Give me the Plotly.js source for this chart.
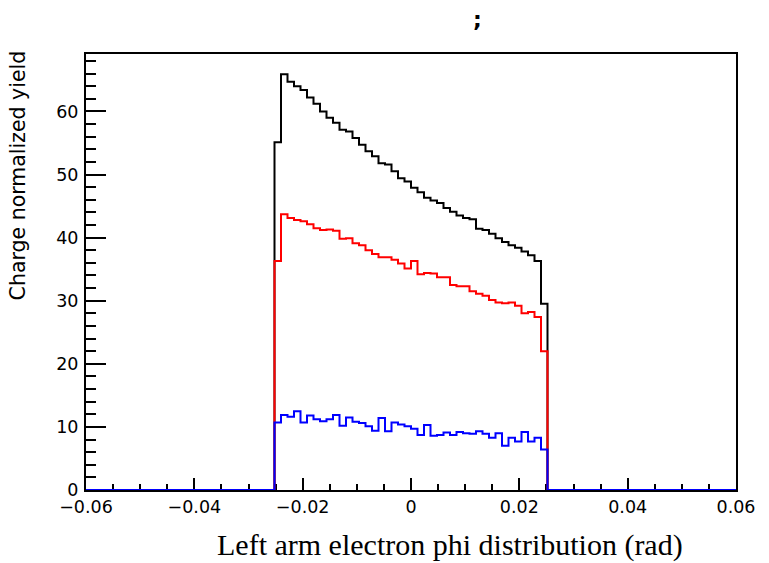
<!DOCTYPE html>
<html>
<head>
<meta charset="utf-8">
<script src="https://cdn.plot.ly/plotly-3.0.1.min.js"></script>
<style>html,body{margin:0;padding:0;background:#fff;}</style>
</head>
<body>
<div id="chart" style="width:769px;height:563px;"></div>
<script>
// Histogram binning (ROOT TH1: 100 bins from -0.06 to 0.06)
const nBins = 100;
const xMin = -0.06;
const xMax = 0.06;
const firstFilledBin = 29;

// Bin contents of the filled bins (bins 29..70)
const blackValues = [55.1, 65.9, 64.7, 64.0, 63.4, 62.2, 61.2, 60.0, 59.0, 58.2,
  57.1, 56.8, 55.8, 54.7, 53.7, 52.9, 51.8, 51.6, 50.5, 49.4,
  48.9, 47.9, 47.2, 46.3, 45.9, 45.5, 44.7, 44.1, 43.5, 43.1,
  42.9, 41.4, 41.2, 40.6, 39.9, 39.3, 38.8, 38.4, 37.8, 37.2,
  36.3, 29.5];
const redValues = [36.3, 43.7, 43.1, 42.8, 42.6, 42.1, 41.5, 41.2, 41.3, 41.1,
  39.8, 39.9, 39.1, 38.8, 38.0, 37.4, 36.9, 36.9, 36.5, 35.9,
  35.1, 36.3, 34.2, 34.4, 34.3, 33.7, 33.7, 32.5, 32.3, 32.3,
  31.5, 31.1, 30.8, 30.1, 29.7, 29.6, 29.7, 29.2, 28.0, 28.2,
  27.4, 22.0];
const blueValues = [10.7, 11.9, 11.6, 12.5, 10.7, 11.8, 11.2, 10.9, 11.2, 11.9,
  10.2, 11.5, 10.8, 10.6, 10.1, 9.4, 11.4, 9.3, 10.7, 10.4,
  10.1, 9.7, 8.7, 10.3, 8.6, 8.7, 9.1, 8.7, 9.2, 9.0,
  8.9, 9.3, 8.9, 8.3, 9.0, 7.0, 8.3, 7.7, 9.2, 7.7,
  8.3, 6.4];

const xTickVals = [-0.06, -0.04, -0.02, 0, 0.02, 0.04, 0.06];
const yTickVals = [0, 10, 20, 30, 40, 50, 60];

function histTrace(values, color) {
  const contents = [];
  for (let i = 0; i < nBins; i++) {
    const k = i - firstFilledBin;
    contents.push(k >= 0 && k < values.length ? values[k] : 0);
  }
  const w = (xMax - xMin) / nBins;
  const x = [], y = [];
  for (let i = 0; i < nBins; i++) { x.push(xMin + i * w); y.push(contents[i]); }
  x.push(xMax); y.push(contents[nBins - 1]);
  return {
    type: 'scatter', mode: 'lines', x: x, y: y,
    line: {shape: 'hv', color: color, width: 2},
    cliponaxis: false, hoverinfo: 'skip', showlegend: false
  };
}

const data = [
  histTrace(blackValues, '#000000'),
  histTrace(redValues, '#ff0000'),
  histTrace(blueValues, '#0000ff')
];

const tickFont = {family: 'DejaVu Sans', size: 17.5, color: '#000'};

const layout = {
  width: 769, height: 563,
  margin: {l: 86, r: 33, t: 54, b: 73, pad: 0},
  paper_bgcolor: '#fff', plot_bgcolor: '#fff',
  showlegend: false,
  xaxis: {
    range: [xMin, xMax], showgrid: false, zeroline: false,
    tickmode: 'array', tickvals: xTickVals,
    ticks: 'inside', ticklen: 12, tickwidth: 2, tickcolor: '#000',
    minor: {dtick: 0.005, tick0: 0, ticks: 'inside', ticklen: 6, tickwidth: 2, tickcolor: '#000', showgrid: false},
    showline: true, linewidth: 2, linecolor: '#000', mirror: true,
    tickfont: tickFont, layer: 'below traces', ticklabelstandoff: 0
  },
  yaxis: {
    range: [0, 69.1], showgrid: false, zeroline: false,
    tickmode: 'array', tickvals: yTickVals,
    ticks: 'inside', ticklen: 20, tickwidth: 2, tickcolor: '#000',
    minor: {dtick: 2, tick0: 0, ticks: 'inside', ticklen: 10, tickwidth: 2, tickcolor: '#000', showgrid: false},
    showline: true, linewidth: 2, linecolor: '#000', mirror: true,
    tickfont: tickFont, layer: 'below traces', ticklabelstandoff: 2
  },
  annotations: [
    {text: 'Left arm electron phi distribution (rad)', xref: 'paper', yref: 'paper',
     x: 0.9216, y: -0.126, xanchor: 'right', yanchor: 'middle', showarrow: false,
     font: {family: 'Liberation Serif', size: 30, color: '#000'}},
    {text: 'Charge normalized yield', xref: 'paper', yref: 'paper',
     x: -0.1048, y: 0.7213, xanchor: 'center', yanchor: 'middle', showarrow: false, textangle: -90,
     font: {family: 'DejaVu Sans', size: 20.5, color: '#000'}},
    {text: ';', xref: 'paper', yref: 'paper',
     x: 0.603, y: 1.0785, xanchor: 'center', yanchor: 'middle', showarrow: false,
     font: {family: 'DejaVu Sans', size: 22, color: '#000', weight: 'bold'}}
  ]
};

Plotly.newPlot('chart', data, layout, {displayModeBar: false, staticPlot: true});
</script>
</body>
</html>
